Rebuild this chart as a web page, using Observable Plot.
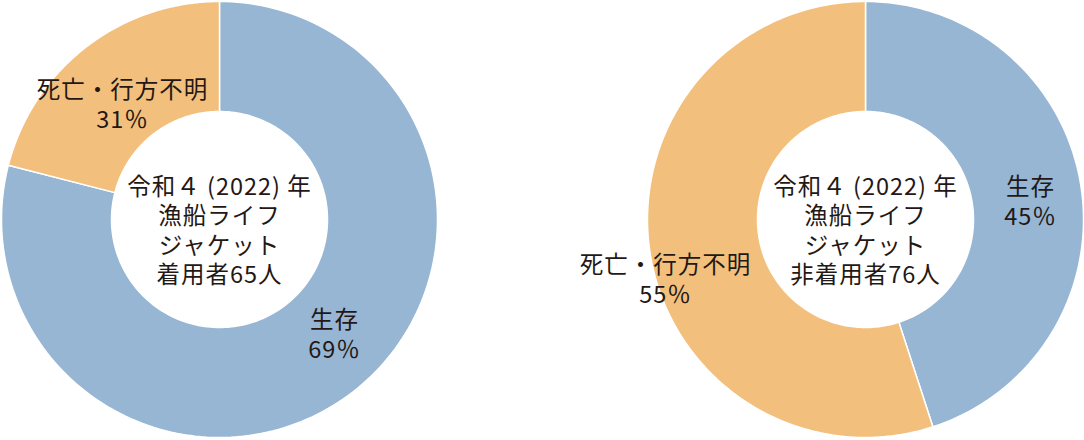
<!DOCTYPE html>
<html><head><meta charset="utf-8">
<script src="https://cdn.jsdelivr.net/npm/d3@7"></script>
<script src="https://cdn.jsdelivr.net/npm/@observablehq/plot@0.6"></script>
<style>
html,body{margin:0;padding:0;background:#fff;}
#chart{width:1084px;height:440px;}
</style></head>
<body><div id="chart"></div>
<script>
// Categories (slice order: clockwise from 12 o'clock)
const categories = ["生存", "死亡・行方不明"];
const colors = ["#97b6d3", "#f3bf7c"];
// Wearers (65 people): printed labels 69% / 31%; slice shares as drawn in the picture
const wearerShares = [79, 21];
const wearerLabels = ["69％", "31％"];
const wearerCenter = "令和４ (2022) 年\n漁船ライフ\nジャケット\n着用者65人";
// Non-wearers (76 people)
const nonWearerShares = [45, 55];
const nonWearerLabels = ["45％", "55％"];
const nonWearerCenter = "令和４ (2022) 年\n漁船ライフ\nジャケット\n非着用者76人";

// layout
const W = 1084, H = 440;
const R_OUT = 218, R_IN = 108;
const donuts = [
  {cx: 219, cy: 219, shares: wearerShares, labels: wearerLabels, center: wearerCenter,
   labelPos: [[334, 333], [122, 103]]},
  {cx: 865, cy: 219, shares: nonWearerShares, labels: nonWearerLabels, center: nonWearerCenter,
   labelPos: [[1030, 200], [665, 278]]}
];

const pie = d3.pie().sort(null).value(d => d);
const marks = [];
const textColor = "#231815";
const font = "'Noto Sans CJK JP', 'Noto Sans', sans-serif";

for (const d of donuts) {
  const arcs = pie(d.shares);
  arcs.forEach((a, i) => {
    const pts = [];
    const n = 180;
    for (let k = 0; k <= n; k++) {
      const t = a.startAngle + (a.endAngle - a.startAngle) * k / n;
      pts.push({x: d.cx + R_OUT * Math.sin(t), y: d.cy - R_OUT * Math.cos(t)});
    }
    for (let k = n; k >= 0; k--) {
      const t = a.startAngle + (a.endAngle - a.startAngle) * k / n;
      pts.push({x: d.cx + R_IN * Math.sin(t), y: d.cy - R_IN * Math.cos(t)});
    }
    marks.push(Plot.line(pts, {x: "x", y: "y", fill: colors[i], stroke: "white",
      strokeWidth: 1.5, curve: "linear-closed"}));
  });
  const labelData = categories.map((c, i) => ({x: d.labelPos[i][0], y: d.labelPos[i][1], text: c + "\n" + d.labels[i]}));
  marks.push(Plot.text(labelData, {x: "x", y: "y", text: "text", fontSize: 23.5,
    lineHeight: 1.28, lineAnchor: "middle", fill: textColor, fontFamily: font}));
  marks.push(Plot.text([{x: d.cx, y: d.cy + 10, text: d.center}], {x: "x", y: "y", text: "text",
    fontSize: 23.5, lineHeight: 1.26, lineAnchor: "middle", fill: textColor, fontFamily: font}));
}

const chart = Plot.plot({
  width: W, height: H,
  margin: 0,
  x: {domain: [0, W], range: [0, W], axis: null},
  y: {domain: [0, H], range: [0, H], axis: null},
  style: {background: "white", fontFamily: font},
  marks
});
chart.querySelectorAll("text").forEach(t => t.setAttribute("letter-spacing", "1"));
document.getElementById("chart").appendChild(chart);
</script></body></html>
